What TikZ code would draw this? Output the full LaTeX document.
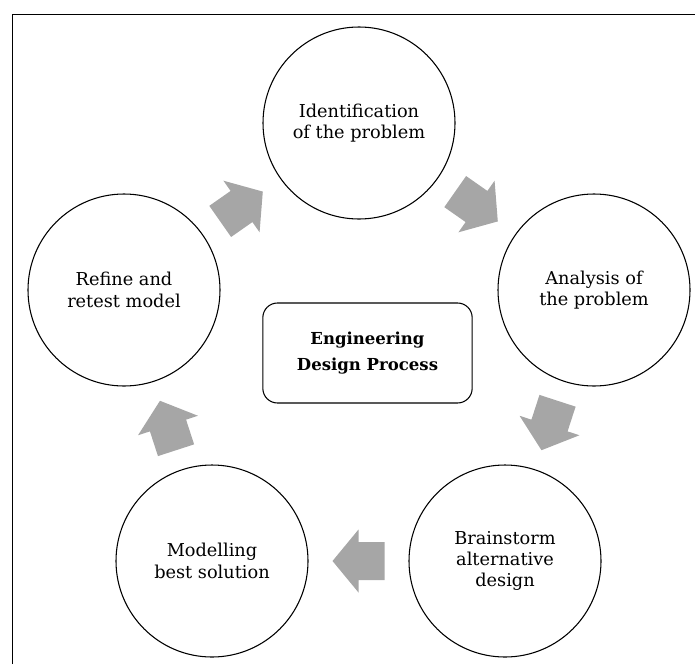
\documentclass[tikz,border=0pt]{standalone}
\usepackage{fontspec}
\setmainfont{DejaVu Serif}
\usetikzlibrary{calc}
\definecolor{arrowgray}{RGB}{166,166,166}
\def\cyctext{\fontsize{13.3}{16}\selectfont}
\def\hubtext{\fontsize{12.4}{20}\selectfont\bfseries}
\tikzset{
  cyc/.style={circle, draw, line width=0.8pt, minimum size=144pt, inner sep=0pt, align=center, font=\cyctext},
  hub/.style={rectangle, rounded corners=11pt, draw, line width=0.8pt, minimum width=157pt, minimum height=75pt, align=center, font=\hubtext},
  flowarrow/.pic={
    \fill [arrowgray] (-26,-19) -- (0,-19) -- (0,-31.5) -- (26,0) -- (0,31.5) -- (0,19) -- (-26,19) -- cycle ;
  },
}

\begin{document}
\begin{tikzpicture}[x=0.75pt,y=0.75pt,yscale=-1,xscale=1]
		\useasboundingbox (0,0) rectangle (695,664);
		% frame
		\draw [line width=0.75pt] (12,664) -- (12,14) -- (695,14) ;
		% steps of the cycle
		\node [cyc] (ident) at (359,123) {Identification\\of the problem};
		\node [cyc] (anal) at (594,290) {Analysis of\\the problem};
		\node [cyc] (brain) at (505,561) {Brainstorm\\alternative\\design};
		\node [cyc] (model) at (212,561) {Modelling\\best solution};
		\node [cyc] (refine) at (124,290) {Refine and\\retest model};
		\node [hub] (edp) at (367.5,353) {Engineering\\Design Process};
		% block arrows, halfway between the steps
		\pic (a1) [rotate=35] at ($(refine)!0.5!(ident)$) {flowarrow};
		\pic (a2) [rotate=-35] at ($(ident)!0.5!(anal)$) {flowarrow};
		\pic (a3) [rotate=-108] at ($(anal)!0.5!(brain)$) {flowarrow};
		\pic (a4) [rotate=180] at ($(brain)!0.5!(model)$) {flowarrow};
		\pic (a5) [rotate=108] at ($(model)!0.5!(refine)$) {flowarrow};
\end{tikzpicture}
\end{document}
